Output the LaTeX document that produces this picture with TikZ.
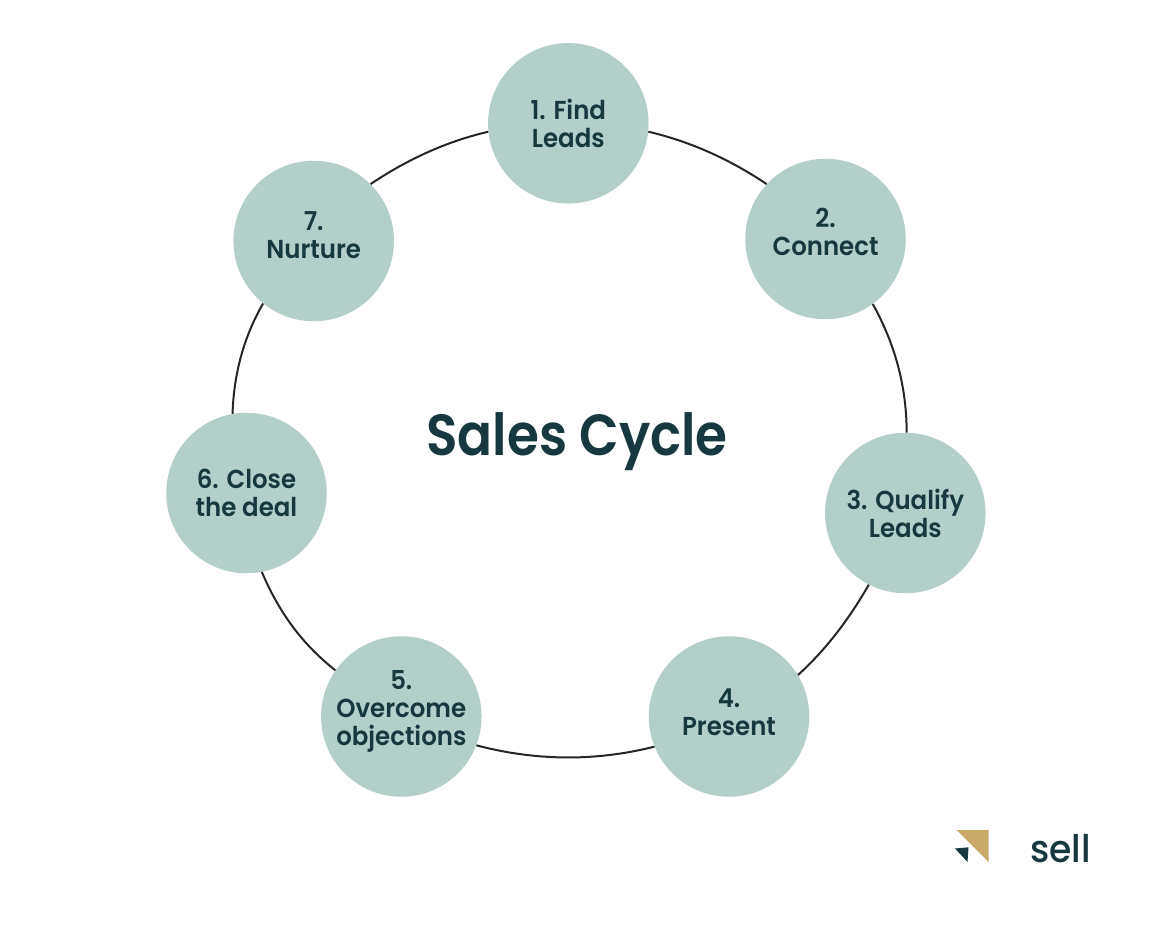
\documentclass[tikz,border=0pt]{standalone}
\usepackage{fontspec}
\setmainfont{Poppins}
\newfontfamily\labfont[FakeStretch=0.94]{Poppins SemiBold}
\newfontfamily\titfont[FakeStretch=0.89]{Poppins SemiBold}
\newfontfamily\logofont[FakeStretch=0.95]{Poppins Medium}
\definecolor{bub}{HTML}{B4CFCA}
\definecolor{ink}{HTML}{17383F}
\definecolor{gold}{HTML}{C9A96A}
\newcommand\lift[1]{\rule[-#1pt]{0pt}{#1pt}}
\tikzset{
 stage/.style={circle,fill=bub,minimum size=160.5pt,inner sep=0pt,align=center,text=ink,font=\labfont\fontsize{26}{28}\selectfont},
 ringline/.style={draw=black!85,line width=2pt}
}
\begin{document}
\begin{tikzpicture}[x=1pt,y=-1pt]
\useasboundingbox[fill=white] (0,0) rectangle (1151,925);
\node[stage] (n1) at (568.3,123.3) {1. Find\\Leads};
\node[stage] (n2) at (825.5,239) {2.\\Connect\lift{14}};
\node[stage] (n3) at (905.3,513) {3. Qualify\\Leads};
\node[stage] (n4) at (729,716.5) {4.\\Present\lift{8}};
\node[stage] (n5) at (401.3,716.5) {5.\\Overcome\\objections\lift{18}};
\node[stage] (n6) at (246.5,493) {6. Close\\the deal};
\node[stage] (n7) at (313.7,241) {7.\\Nurture\lift{12}};
\draw[ringline] (n1.-6.9) .. controls +(42.4,9.9) and +(-36,-24.3) .. (n2.137);
\draw[ringline] (n2.-54) .. controls +(22.4,40.3) and +(-.2,-46.1) .. (n3.89.5);
\draw[ringline] (n3.243.6) .. controls +(-19.1,33.5) and +(28.5,-25.9) .. (n4.31.7);
\draw[ringline] (n4.202.8) .. controls +(-59.2,15) and +(59.2,15.6) .. (n5.-21.7);
\draw[ringline] (n5.145) .. controls +(-33.8,-26.6) and +(16.8,39.6) .. (n6.-79.8);
\draw[ringline] (n6.100.3) .. controls +(1.3,-39.3) and +(-19.7,34.1) .. (n7.231.5);
\draw[ringline] (n7.45.3) .. controls +(36,-24.3) and +(-42.4,9.9) .. (n1.186.7);
\node[text=ink,font=\titfont\fontsize{58}{60}\selectfont] (title) at (577,442) {Sales Cycle};
\node[text=ink,font=\logofont\fontsize{38}{40}\selectfont] (logo) at (1060.5,849) {sell};
\fill[gold] (956.7,830) -- (988.5,830) -- (988.5,862) -- cycle;
\fill[ink] (955,848.5) -- (968.5,847.3) -- (967.5,862) -- cycle;
\end{tikzpicture}
\end{document}
